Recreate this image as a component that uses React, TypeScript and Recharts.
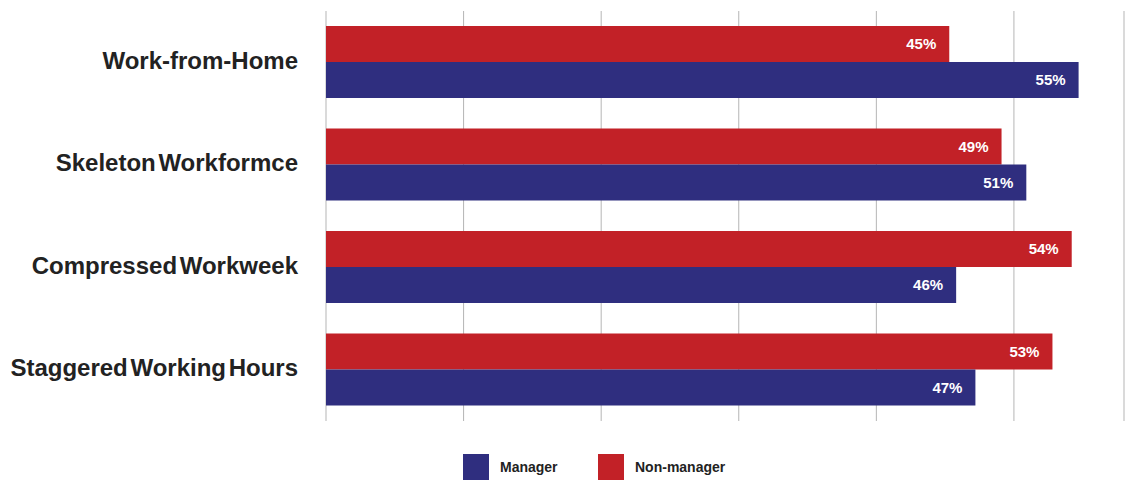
import React from "react";
import {
  BarChart,
  Bar,
  XAxis,
  YAxis,
  CartesianGrid,
  Legend,
  LabelList,
} from "recharts";

const CATEGORIES = [
  "Work-from-Home",
  "Skeleton Workformce",
  "Compressed Workweek",
  "Staggered Working Hours",
];
const MANAGER = [54.7, 50.9, 45.8, 47.2];
const NON_MANAGER = [45.3, 49.1, 54.2, 52.8];
const X_TICKS = [0, 10, 20, 30, 40, 50];

const data = CATEGORIES.map((name, i) => ({
  name,
  manager: MANAGER[i],
  nonManager: NON_MANAGER[i],
}));

const LegendContent = ({ payload }: any) => {
  // Manager first, like the original legend
  const items = [...(payload || [])].sort((a, b) =>
    String(a.value).localeCompare(String(b.value))
  );
  return (
    <div
      style={{
        height: 59,
        display: "flex",
        paddingLeft: 463,
        paddingTop: 33,
        boxSizing: "border-box",
      }}
    >
      {items.map((item) => (
        <div
          key={item.value}
          style={{ display: "flex", alignItems: "center", width: 135 }}
        >
          <span
            style={{
              display: "inline-block",
              width: 26,
              height: 26,
              background: item.color,
              marginRight: 11,
            }}
          />
          <span style={{ fontSize: 14, fontWeight: 700, color: "#222" }}>
            {item.value}
          </span>
        </div>
      ))}
    </div>
  );
};

const App: React.FC = () => {
  return (
    <div
      style={{
        position: "absolute",
        left: 0,
        top: 0,
        width: 1135,
        height: 480,
        background: "#fff",
        fontFamily: "'Liberation Sans', Arial, sans-serif",
      }}
    >
      <BarChart
        width={1135}
        height={480}
        data={data}
        layout="vertical"
        margin={{ top: 11, right: 11, bottom: 0, left: 0 }}
        barGap={0}
        barSize={36}
      >
        <CartesianGrid horizontal={false} stroke="#b5b5b5" />
        <XAxis type="number" domain={[0, 58]} ticks={X_TICKS} hide />
        <YAxis
          type="category"
          dataKey="name"
          width={326}
          axisLine={false}
          tickLine={false}
          tickSize={0}
          tickMargin={28}
          tick={{
            fontSize: 24,
            fontWeight: 700,
            fill: "#222",
            dy: -2,
            style: { wordSpacing: "-4px" },
          }}
        />
        <Legend
          verticalAlign="bottom"
          wrapperStyle={{ left: 0, width: 1135 }}
          content={<LegendContent />}
        />
        <Bar
          dataKey="nonManager"
          name="Non-manager"
          fill="#C22127"
          isAnimationActive={false}
        >
          <LabelList
            dataKey="nonManager"
            position="insideRight"
            offset={13}
            formatter={(v: any) => `${Math.round(Number(v))}%`}
            style={{ fill: "#fff", fontSize: 15, fontWeight: 700 }}
          />
        </Bar>
        <Bar
          dataKey="manager"
          name="Manager"
          fill="#2F2E7F"
          isAnimationActive={false}
        >
          <LabelList
            dataKey="manager"
            position="insideRight"
            offset={13}
            formatter={(v: any) => `${Math.round(Number(v))}%`}
            style={{ fill: "#fff", fontSize: 15, fontWeight: 700 }}
          />
        </Bar>
      </BarChart>
    </div>
  );
};

export default App;
